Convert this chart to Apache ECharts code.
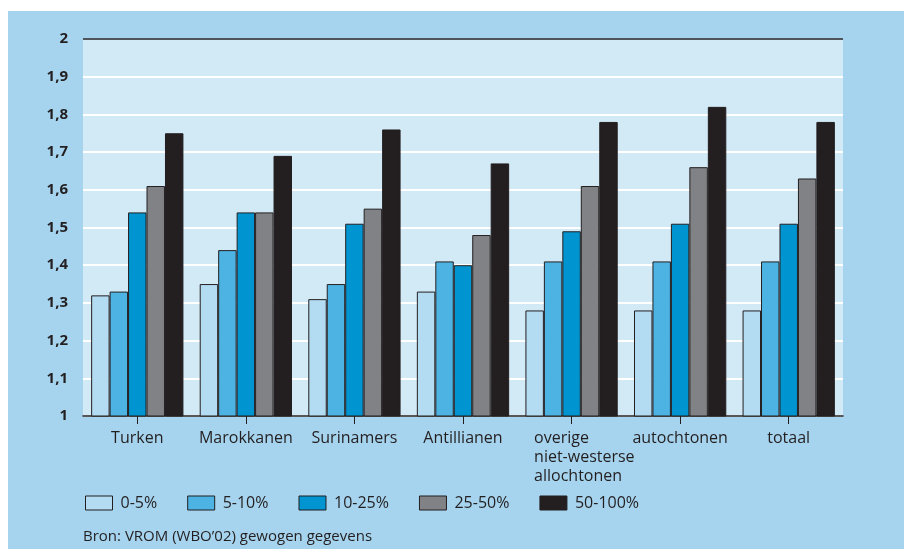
<!DOCTYPE html>
<html>
<head>
<meta charset="utf-8">
<script src="https://cdn.jsdelivr.net/npm/echarts@6/dist/echarts.min.js"></script>
<style>
html,body{margin:0;padding:0;background:#ffffff;}
#bg{position:absolute;left:8px;top:11px;width:896px;height:538px;background:#a6d4ee;}
#chart{position:absolute;left:0;top:0;width:904px;height:549px;}
</style>
</head>
<body>
<div id="bg"></div>
<div id="chart"></div>
<script>
const categories = ['Turken', 'Marokkanen', 'Surinamers', 'Antillianen', 'overige\nniet-westerse\nallochtonen', 'autochtonen', 'totaal'];
const seriesNames = ['0-5%', '5-10%', '10-25%', '25-50%', '50-100%'];
const s0_5 =    [1.32, 1.35, 1.31, 1.33, 1.28, 1.28, 1.28];
const s5_10 =   [1.33, 1.44, 1.35, 1.41, 1.41, 1.41, 1.41];
const s10_25 =  [1.54, 1.54, 1.51, 1.40, 1.49, 1.51, 1.51];
const s25_50 =  [1.61, 1.54, 1.55, 1.48, 1.61, 1.66, 1.63];
const s50_100 = [1.75, 1.69, 1.76, 1.67, 1.78, 1.82, 1.78];
const sourceText = 'Bron: VROM (WBO\u201902) gewogen gegevens';

const colors = ['#b3dbf2', '#4db3e3', '#0094d0', '#808285', '#231f20'];
const allData = [s0_5, s5_10, s10_25, s25_50, s50_100];
const FONT = 'Open Sans';

const chart = echarts.init(document.getElementById('chart'), null, {renderer: 'canvas'});
const gridColors = [];
for (let i = 0; i < 10; i++) gridColors.push('#ffffff');
gridColors.push('#4f555b');

const option = {
  backgroundColor: 'transparent',
  textStyle: {fontFamily: FONT, color: '#231f20'},
  animation: false,
  grid: {left: 83, right: 61, top: 39, bottom: 133, show: true, backgroundColor: '#d2e9f6', borderWidth: 0, containLabel: false},
  legend: {
    data: seriesNames,
    left: 85, top: 495, padding: 0,
    itemWidth: 27, itemHeight: 14, itemGap: 30,
    icon: 'rect',
    textStyle: {fontFamily: FONT, fontSize: 16, color: '#231f20', padding: [0, 0, 0, 3]},
    itemStyle: {borderColor: '#231f20', borderWidth: 1}
  },
  title: {
    text: sourceText,
    left: 78, top: 524,
    textStyle: {fontFamily: FONT, fontSize: 15, fontWeight: 'normal', color: '#231f20'}
  },
  xAxis: {
    type: 'category',
    data: categories,
    axisLine: {show: true, lineStyle: {color: '#231f20', width: 1.5}},
    axisTick: {show: true, alignWithLabel: true, length: 8, lineStyle: {color: '#231f20', width: 1}},
    axisLabel: {
      fontFamily: FONT, fontSize: 16, color: '#231f20', margin: 13, lineHeight: 19,
      interval: 0,
      formatter: function (v) {
        if (v.indexOf('\n') < 0) return v;
        return v.split('\n').map(function (s) { return '{l|' + s + '}'; }).join('\n');
      },
      rich: {l: {fontFamily: FONT, fontSize: 16, color: '#231f20', lineHeight: 19, width: 75, align: 'left'}}
    },
    splitLine: {show: false}
  },
  yAxis: {
    type: 'value',
    min: 1, max: 2, interval: 0.1,
    axisLine: {show: false},
    axisTick: {show: false},
    axisLabel: {
      fontFamily: FONT, fontSize: 15, fontWeight: 'bold', color: '#231f20', margin: 15,
      formatter: function (v) { return (Math.round(v * 10) / 10).toString().replace('.', ','); }
    },
    splitLine: {show: true, lineStyle: {color: gridColors, width: 2}}
  },
  series: seriesNames.map((n, i) => ({
    name: n,
    type: 'bar',
    data: allData[i],
    barGap: '0%',
    barCategoryGap: '15%',
    itemStyle: {color: colors[i], borderColor: '#231f20', borderWidth: 1}
  }))
};
chart.setOption(option);
</script>
</body>
</html>
